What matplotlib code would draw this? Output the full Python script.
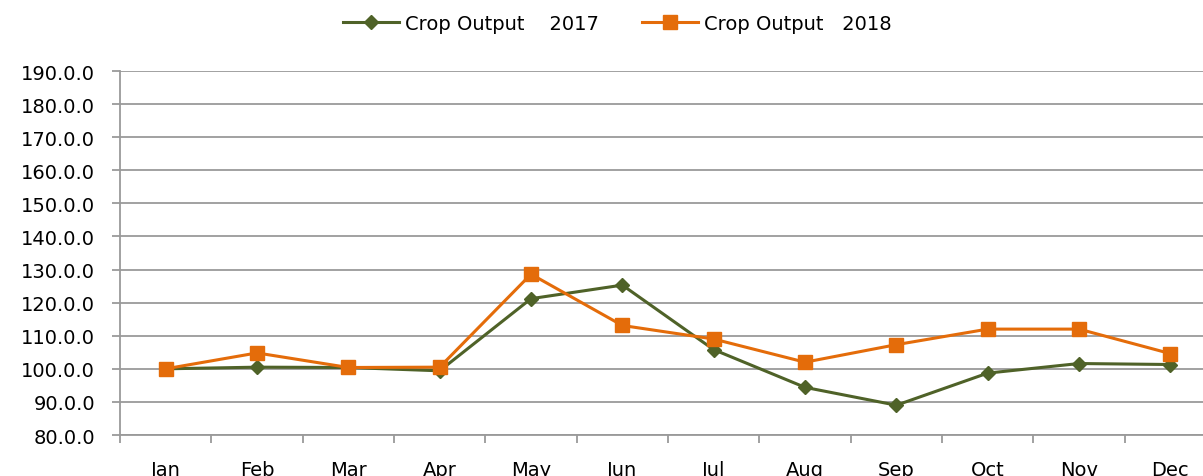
import matplotlib
matplotlib.use("Agg")
from matplotlib import pyplot as plt
import numpy as np

# data
months = ['Jan', 'Feb', 'Mar', 'Apr', 'May', 'Jun', 'Jul', 'Aug', 'Sep', 'Oct', 'Nov', 'Dec']
output_2017 = [100.0, 100.5, 100.4, 99.4, 121.2, 125.3, 105.8, 94.4, 89.0, 98.7, 101.6, 101.3]
output_2018 = [100.0, 104.8, 100.4, 100.5, 128.6, 113.1, 109.0, 102.0, 107.3, 112.0, 112.0, 104.6]
y_ticks = [80, 90, 100, 110, 120, 130, 140, 150, 160, 170, 180, 190]
y_tick_labels = ['%.1f.0' % v for v in y_ticks]

green = '#4F6228'
orange = '#E46C0A'
grid_gray = '#9A9A9A'

plt.rcParams['font.family'] = ['DejaVu Sans']

fig = plt.figure(figsize=(12.03, 4.77), dpi=100)
ax = fig.add_axes([120 / 1203, 41 / 477, 1096 / 1203, 364 / 477])

x = np.arange(len(months))
ax.plot(x, output_2017, color=green, lw=2.2, marker='D', ms=7,
        label='Crop Output    2017', zorder=3)
ax.plot(x, output_2018, color=orange, lw=2.2, marker='s', ms=10,
        label='Crop Output   2018', zorder=4)

ax.set_xlim(-0.5, len(months) - 0.5)
ax.set_ylim(80, 190)
ax.set_yticks(y_ticks)
ax.set_yticklabels(y_tick_labels, fontsize=14)
ax.yaxis.grid(True, color=grid_gray, lw=1.3)
ax.set_axisbelow(True)

# labels centred on the months, tick marks between them
ax.set_xticks(x)
ax.set_xticklabels(months, fontsize=14)
ax.set_xticks(np.arange(len(months) + 1) - 0.5, minor=True)
ax.tick_params(axis='x', which='major', length=0, pad=18)
ax.tick_params(axis='x', which='minor', length=6, color=grid_gray, width=1.3)
ax.tick_params(axis='y', length=6, color=grid_gray, width=1.3, pad=12)

for s in ['top', 'right']:
    ax.spines[s].set_visible(False)
for s in ['left', 'bottom']:
    ax.spines[s].set_color(grid_gray)
    ax.spines[s].set_linewidth(1.3)

fig.legend(loc='upper center', bbox_to_anchor=(0.513, 1.005), ncol=2, frameon=False,
           fontsize=14, handlelength=2.9, columnspacing=2.2, handletextpad=0.3)

fig.savefig('out.png', dpi=100)
